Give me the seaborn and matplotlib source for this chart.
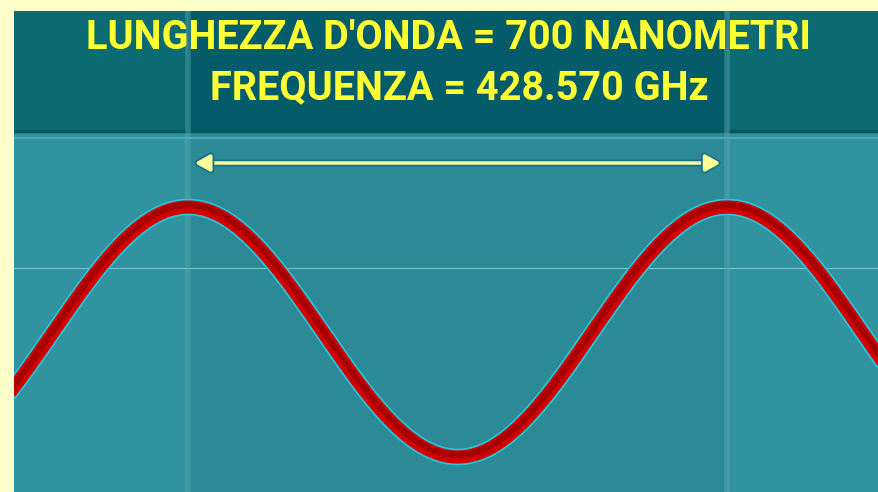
import numpy as np
import pandas as pd
import seaborn as sns
import matplotlib.pyplot as plt
import matplotlib.patheffects as pe
from matplotlib.patches import FancyArrowPatch

# Wave data
wavelength_nm = 700
frequency_label = "428.570 GHz"
title_lines = ["LUNGHEZZA D'ONDA = 700 NANOMETRI", "FREQUENZA = " + frequency_label]

x_min, x_max = -226, 897
y_min, y_max = -1.28, 2.568

x = np.linspace(x_min, x_max, 600)
df = pd.DataFrame({"x": x, "y": np.cos(2 * np.pi * x / wavelength_nm)})

fig = plt.figure(figsize=(8.79, 4.92), dpi=100, facecolor="#ffffcc")
ax = fig.add_axes([14 / 879, 0, 865 / 879, 481 / 492])

# Background
ax.axhspan(y_min, 1.6, color="#3192a0", zorder=0)
ax.axvspan(0, wavelength_nm, ymax=(1.6 - y_min) / (y_max - y_min), color="#2b8a96", zorder=0.5, lw=0)
ax.axhspan(1.6, y_max, color="#0b6a72", zorder=0)
ax.axvspan(0, wavelength_nm, ymin=(1.6 - y_min) / (y_max - y_min), color="#045b6a", zorder=0.5, lw=0)
ax.axhline(1.61, color="#085860", lw=2.5, zorder=1)
ax.axhline(1.555, color="#4aaab4", lw=1.5, zorder=1)
ax.axhline(0.512, color="#7cc4cc", lw=0.8, zorder=1)

# Wavelength markers
for xv in [0, wavelength_nm]:
    ax.axvline(xv, color="#5aa8b0", lw=4, alpha=0.45, zorder=1)

# Arrow spanning one wavelength
arrow = FancyArrowPatch((5, 1.352), (wavelength_nm - 5, 1.352), arrowstyle="<|-|>,head_length=9,head_width=5",
                        color="#ffff99", lw=2.5, mutation_scale=1, zorder=3,
                        path_effects=[pe.withStroke(linewidth=5, foreground="#1a6f8a")])
ax.add_patch(arrow)

# Wave
sns.lineplot(data=df, x="x", y="y", ax=ax, color="#d40000", lw=9.5, zorder=4,
             path_effects=[pe.withStroke(linewidth=12, foreground="#22c8dc")])
df_shade = df.assign(y=df["y"] + 0.015)
sns.lineplot(data=df_shade, x="x", y="y", ax=ax, color="#8a0000", lw=4.5, alpha=0.6, zorder=5)
ax.set_xlim(x_min, x_max)
ax.set_ylim(y_min, y_max)
ax.axis("off")

# Header text
for xv, yv, txt in zip([338, 352], [2.352, 1.952], title_lines):
    ax.text(xv, yv, txt, ha="center", va="center", color="#ffff33",
            fontsize=28.5, fontweight="bold", family=["Roboto", "DejaVu Sans"], zorder=6)

fig.savefig("out.png", dpi=100, facecolor=fig.get_facecolor())
